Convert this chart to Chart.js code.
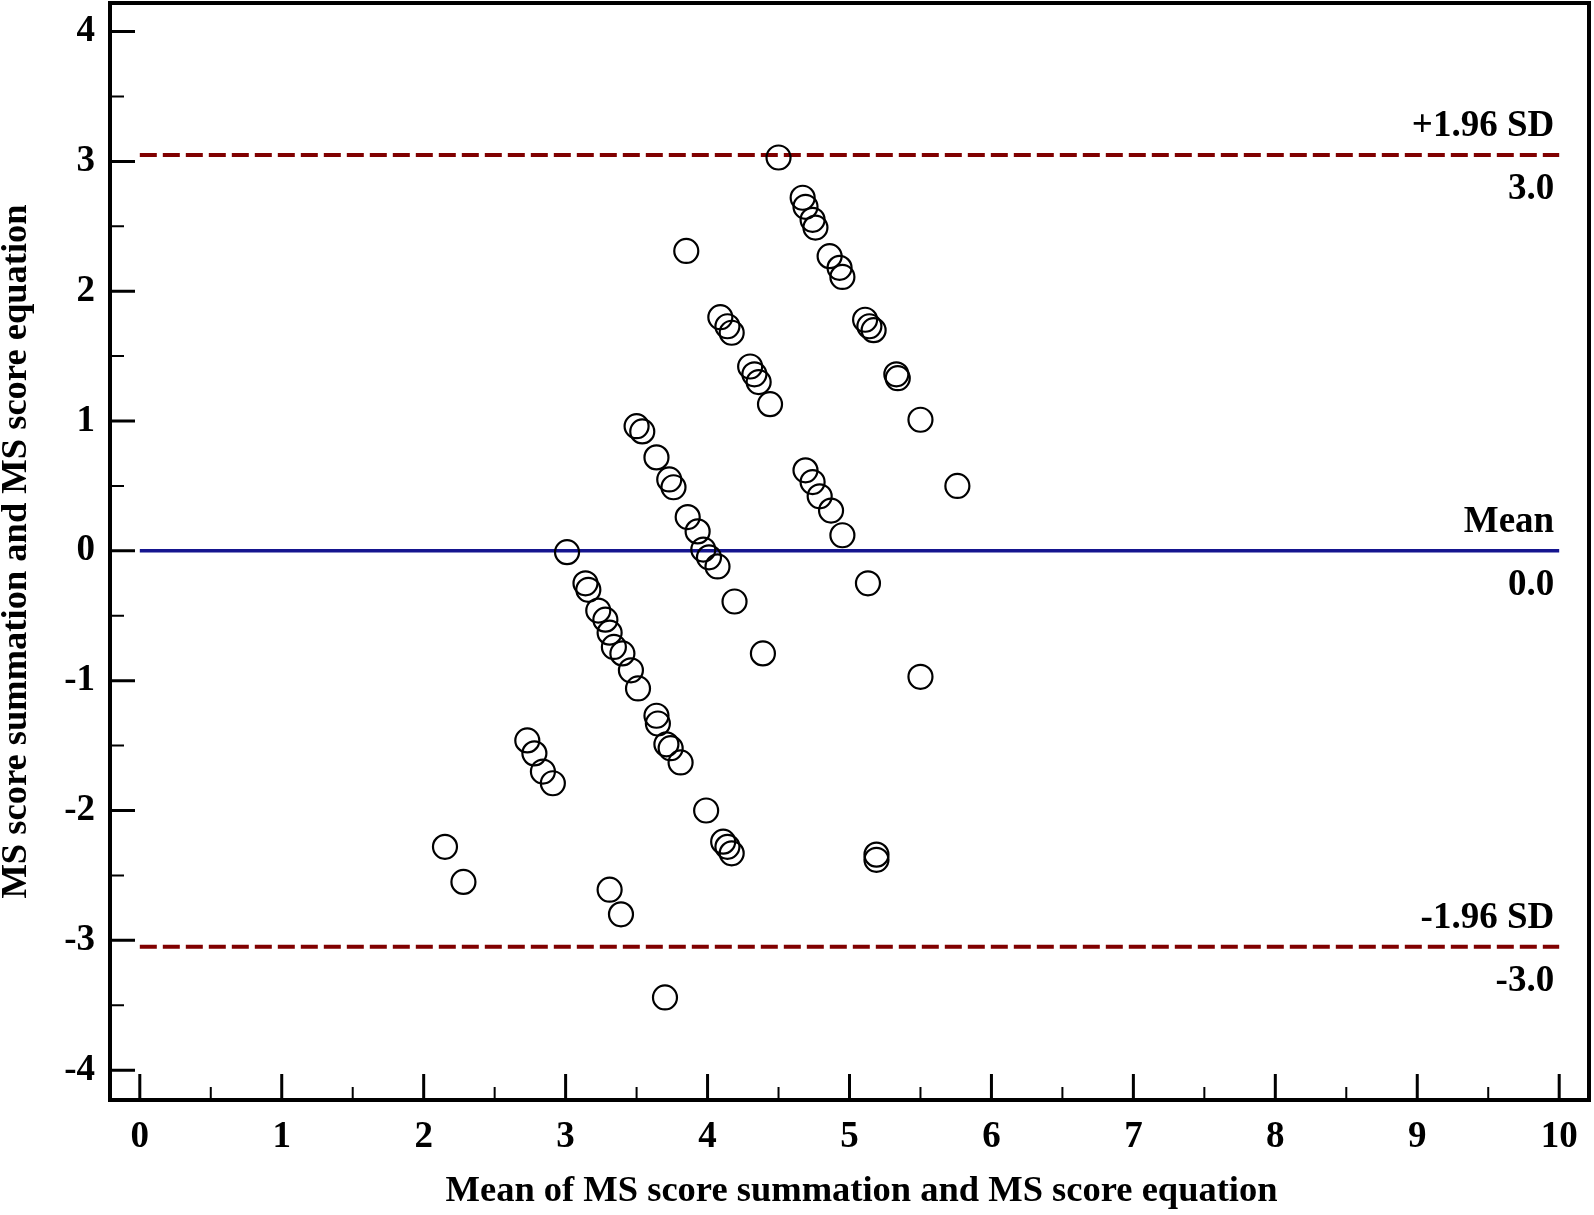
<!DOCTYPE html>
<html>
<head>
<meta charset="utf-8">
<title>Bland-Altman plot</title>
<script src="https://cdn.jsdelivr.net/npm/chart.js@4.4.1/dist/chart.umd.min.js"></script>
<style>
  html, body { margin: 0; padding: 0; background: #fff; }
  #wrap { width: 1594px; height: 1215px; position: relative; }
</style>
</head>
<body>
<div id="wrap"><canvas id="baChart"></canvas></div>
<script>
// mean of the two scores (x) and their difference (y)
const MEAN_VALUES = [
  3.85, 4.50, 4.67, 4.69, 4.74, 4.76, 4.86, 4.93, 4.95,
  4.09, 4.14, 4.17, 4.30, 4.33, 4.36, 4.44,
  5.11, 5.14, 5.17, 5.33, 5.34, 5.50, 5.76,
  3.01, 3.50, 3.54, 3.64, 3.73, 3.76, 3.86, 3.93, 3.97, 4.01, 4.07, 4.19, 4.39,
  4.69, 4.74, 4.79, 4.87, 4.95, 5.13, 5.50,
  3.14, 3.16, 3.23, 3.28, 3.31, 3.34, 3.40, 3.46, 3.51, 3.64, 3.65, 3.71, 3.74, 3.81,
  2.73, 2.78, 2.84, 2.91, 2.15, 2.28, 3.31, 3.39, 3.70,
  3.99, 4.11, 4.14, 4.17, 5.19, 5.19,
];
const DIFF_VALUES = [
  2.31, 3.03, 2.72, 2.65, 2.55, 2.49, 2.27, 2.18, 2.11,
  1.80, 1.73, 1.68, 1.42, 1.36, 1.30, 1.13,
  1.78, 1.73, 1.70, 1.36, 1.33, 1.01, 0.50,
  -0.01, 0.96, 0.92, 0.72, 0.55, 0.49, 0.26, 0.15, 0.01, -0.05, -0.12, -0.39, -0.79,
  0.62, 0.53, 0.42, 0.31, 0.12, -0.25, -0.97,
  -0.25, -0.30, -0.46, -0.53, -0.63, -0.74, -0.79, -0.92, -1.06, -1.27, -1.33, -1.49, -1.52, -1.63,
  -1.46, -1.56, -1.70, -1.79, -2.28, -2.55, -2.61, -2.80, -3.44,
  -2.00, -2.24, -2.28, -2.33, -2.34, -2.38,
];

const X_TICKS = [0, 1, 2, 3, 4, 5, 6, 7, 8, 9, 10];
const X_MINOR = [0.5, 1.5, 2.5, 3.5, 4.5, 5.5, 6.5, 7.5, 8.5, 9.5];
const Y_TICKS = [-4, -3, -2, -1, 0, 1, 2, 3, 4];
const Y_MINOR = [-3.5, -2.5, -1.5, -0.5, 0.5, 1.5, 2.5, 3.5];

const LINE_START = 0;
const LINE_END = 10;
const UPPER_LIMIT = 3.05;
const MEAN_DIFF = 0;
const LOWER_LIMIT = -3.05;
const LIMIT_VALUES = [UPPER_LIMIT, MEAN_DIFF, LOWER_LIMIT];
const LIMIT_NAMES = ["+1.96 SD", "Mean", "-1.96 SD"];
const LIMIT_TEXTS = ["3.0", "0.0", "-3.0"];

const X_TITLE = "Mean of MS score summation and MS score equation";
const Y_TITLE = "MS score summation and MS score equation";

const FONT_FAMILY = "'Liberation Serif', 'DejaVu Serif', serif";

const points = MEAN_VALUES.map((x, i) => ({ x, y: DIFF_VALUES[i] }));

function limitLine(value) {
  return [{ x: LINE_START, y: value }, { x: LINE_END, y: value }];
}

const frameAndTicks = {
  id: "frameAndTicks",
  beforeDatasetsDraw(chart) {
    const { ctx, chartArea } = chart;
    const xs = chart.scales.x;
    const ys = chart.scales.y;
    ctx.save();
    ctx.strokeStyle = "#000";
    ctx.lineCap = "butt";

    ctx.lineWidth = 4;
    ctx.strokeRect(chartArea.left, chartArea.top,
      chartArea.right - chartArea.left, chartArea.bottom - chartArea.top);

    // ticks point inward from the frame
    ctx.lineWidth = 3;
    ctx.beginPath();
    Y_TICKS.forEach((v) => {
      const py = ys.getPixelForValue(v);
      ctx.moveTo(chartArea.left, py);
      ctx.lineTo(chartArea.left + 25, py);
    });
    X_TICKS.forEach((v) => {
      const px = xs.getPixelForValue(v);
      ctx.moveTo(px, chartArea.bottom);
      ctx.lineTo(px, chartArea.bottom - 26);
    });
    ctx.stroke();

    ctx.lineWidth = 2;
    ctx.beginPath();
    Y_MINOR.forEach((v) => {
      const py = ys.getPixelForValue(v);
      ctx.moveTo(chartArea.left, py);
      ctx.lineTo(chartArea.left + 14, py);
    });
    X_MINOR.forEach((v) => {
      const px = xs.getPixelForValue(v);
      ctx.moveTo(px, chartArea.bottom);
      ctx.lineTo(px, chartArea.bottom - 13);
    });
    ctx.stroke();
    ctx.restore();
  },
  afterDatasetsDraw(chart) {
    const { ctx, chartArea } = chart;
    const xs = chart.scales.x;
    const ys = chart.scales.y;
    const right = xs.getPixelForValue(LINE_END) - 5;
    ctx.save();
    ctx.fillStyle = "#000";
    ctx.font = "bold 37px " + FONT_FAMILY;
    ctx.textAlign = "right";
    ctx.textBaseline = "middle";
    LIMIT_VALUES.forEach((v, i) => {
      const py = ys.getPixelForValue(v);
      ctx.fillText(LIMIT_NAMES[i], right, py - 28);
      ctx.fillText(LIMIT_TEXTS[i], right, py + 35);
    });

    // x title sits a little right of the plot centre in the original
    ctx.font = "bold 36.5px " + FONT_FAMILY;
    ctx.textAlign = "center";
    ctx.fillText(X_TITLE, (chartArea.left + chartArea.right) / 2 + 12, xs.bottom - 23);
    ctx.restore();
  },
};

function init() {
  const ctx = document.getElementById("baChart");
  new Chart(ctx, {
    type: "scatter",
    data: {
      datasets: [
        {
          label: "Differences",
          data: points,
          pointStyle: "circle",
          pointRadius: 12,
          pointBorderWidth: 2.2,
          borderColor: "#000",
          backgroundColor: "rgba(255,255,255,0)",
        },
        {
          type: "line",
          label: "+1.96 SD",
          data: limitLine(UPPER_LIMIT),
          borderColor: "#800000",
          borderWidth: 4,
          borderDash: [17, 6],
          pointRadius: 0,
          fill: false,
        },
        {
          type: "line",
          label: "Mean",
          data: limitLine(MEAN_DIFF),
          borderColor: "#15158f",
          borderWidth: 3.5,
          pointRadius: 0,
          fill: false,
        },
        {
          type: "line",
          label: "-1.96 SD",
          data: limitLine(LOWER_LIMIT),
          borderColor: "#800000",
          borderWidth: 4,
          borderDash: [17, 6],
          pointRadius: 0,
          fill: false,
        },
      ],
    },
    options: {
      responsive: true,
      maintainAspectRatio: false,
      animation: false,
      events: [],
      layout: {
        autoPadding: false,
        padding: { top: 3, right: 5, left: 0, bottom: 0 },
      },
      plugins: {
        legend: { display: false },
        tooltip: { enabled: false },
      },
      scales: {
        x: {
          type: "linear",
          min: -0.21,
          max: 10.21,
          grid: { display: false, drawTicks: false },
          border: { display: false },
          afterBuildTicks: (scale) => {
            scale.ticks = X_TICKS.map((v) => ({ value: v }));
          },
          afterFit: (scale) => {
            scale.height = 115;
            scale.paddingLeft = 0;
            scale.paddingRight = 0;
          },
          ticks: {
            autoSkip: false,
            maxRotation: 0,
            padding: 15,
            color: "#000",
            font: { family: FONT_FAMILY, size: 37, weight: "bold" },
            callback: (v) => String(v),
          },
          title: { display: false },
        },
        y: {
          type: "linear",
          min: -4.23,
          max: 4.22,
          grid: { display: false, drawTicks: false },
          border: { display: false },
          afterBuildTicks: (scale) => {
            scale.ticks = Y_TICKS.map((v) => ({ value: v }));
          },
          afterFit: (scale) => {
            scale.width = 110;
            scale.paddingTop = 0;
            scale.paddingBottom = 0;
          },
          ticks: {
            autoSkip: false,
            padding: 15,
            color: "#000",
            font: { family: FONT_FAMILY, size: 37, weight: "bold" },
            callback: (v) => String(v),
          },
          title: {
            display: true,
            text: Y_TITLE,
            color: "#000",
            font: { family: FONT_FAMILY, size: 36.5, weight: "bold", lineHeight: 0.9 },
            padding: { top: 0, bottom: 0 },
          },
        },
      },
    },
    plugins: [frameAndTicks],
  });
}

if (document.readyState === "loading") {
  document.addEventListener("DOMContentLoaded", init);
} else {
  init();
}
</script>
</body>
</html>
